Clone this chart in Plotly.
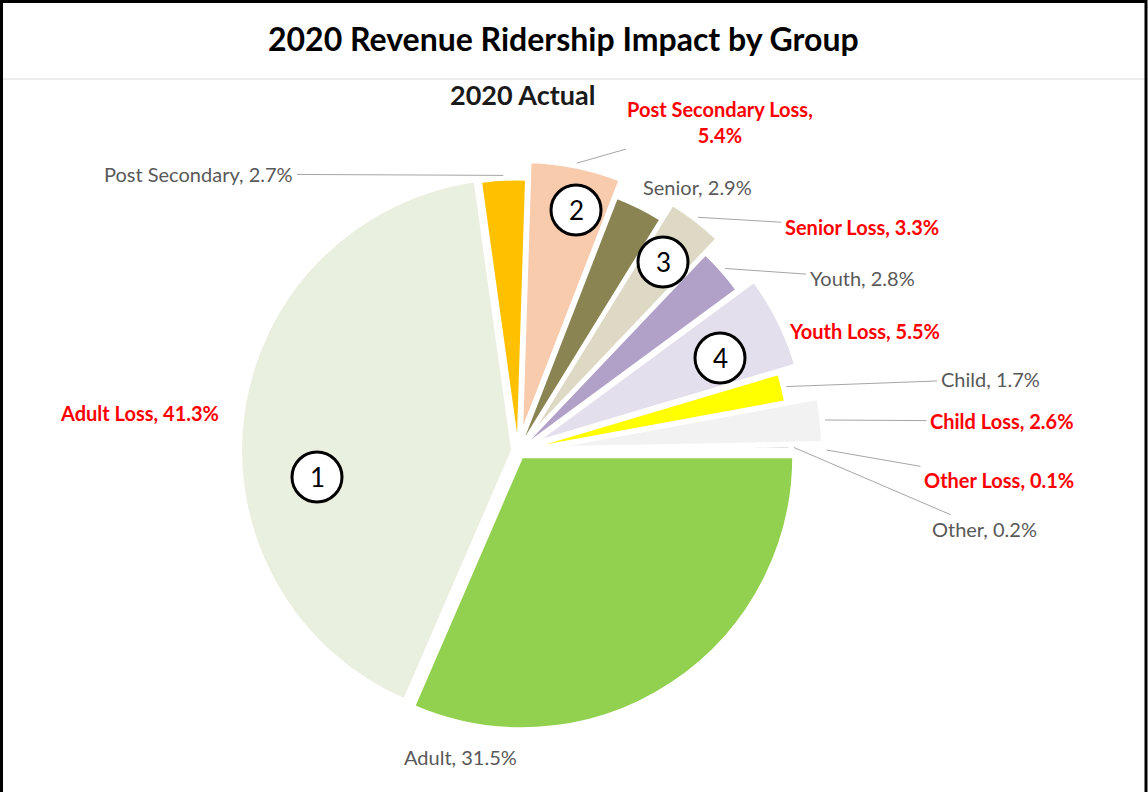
import math
import plotly.graph_objects as go

# Data
grupos = ["Adult", "Adult Loss", "Post Secondary", "Post Secondary Loss", "Senior", "Senior Loss",
          "Youth", "Youth Loss", "Child", "Child Loss", "Other", "Other Loss"]
percentuais = [31.5, 41.3, 2.7, 5.4, 2.9, 3.3, 2.8, 5.5, 1.7, 2.6, 0.2, 0.1]
marcadores = ["1", "2", "3", "4"]

# Colors / pulls
cores = {
    "Adult": "#92D050",
    "Adult Loss": "#EAF0DF",
    "Post Secondary": "#FFC000",
    "Post Secondary Loss": "#F8CBAD",
    "Senior": "#8A8452",
    "Senior Loss": "#DDD9C4",
    "Youth": "#B1A0C7",
    "Youth Loss": "#E4DFEC",
    "Child": "#FFFF00",
    "Child Loss": "#F2F2F2",
    "Other": "#BFBFBF",
    "Other Loss": "#EDEDED",
}
pulls = [0.025, 0.02, 0, 0.065, 0, 0.07, 0, 0.07, 0, 0.12, 0, 0.12]

# Layout (pixels)
W, H = 1148, 792
cx, cy, r = 518, 451, 272
half = r * (1 + max(pulls))

# label text centre (px) and whether a leader line is drawn
pos_rotulos = {
    "Adult": (460, 757, False),
    "Adult Loss": (139, 413, False),
    "Post Secondary": (199, 174, True),
    "Post Secondary Loss": (720, 122, True),
    "Senior": (697, 187, False),
    "Senior Loss": (862, 227, True),
    "Youth": (862, 278, True),
    "Youth Loss": (864, 331, False),
    "Child": (990, 379, True),
    "Child Loss": (1002, 421, True),
    "Other": (984, 529, True),
    "Other Loss": (999, 480, True),
}
pos_marcadores = [(317, 477), (576, 210), (663, 262), (720, 358)]

fonte = "Lato, 'Open Sans', sans-serif"

fig = go.Figure(go.Pie(
    labels=grupos, values=percentuais, sort=False, direction="clockwise", rotation=90,
    marker=dict(colors=[cores[g] for g in grupos], line=dict(color="white", width=3)),
    pull=pulls, textinfo="none", hoverinfo="label+percent", showlegend=False,
    domain=dict(x=[(cx - half) / W, (cx + half) / W], y=[1 - (cy + half) / H, 1 - (cy - half) / H]),
))

# Labels
total = sum(percentuais)
acumulado = 0
anotacoes = []
for g, v, p in zip(grupos, percentuais, pulls):
    meio = math.radians(90 + (acumulado + v / 2) / total * 360)
    acumulado += v
    dist = r * (1 + p) + 4
    tx, ty = cx + dist * math.sin(meio), cy - dist * math.cos(meio)
    lx, ly, linha = pos_rotulos[g]
    perda = "Loss" in g
    texto = f"{g}, {v}%"
    if g == "Post Secondary Loss":
        texto = f"{g},<br>{v}%"
    fonte_rot = dict(family=fonte, size=20, color="#FF0000" if perda else "#595959")
    if linha:
        anotacoes.append(dict(x=tx / W, y=1 - ty / H, xref="paper", yref="paper",
                              ax=lx - tx, ay=ly - ty, axref="pixel", ayref="pixel",
                              text=f"<b>{texto}</b>" if perda else texto, font=fonte_rot,
                              showarrow=True, arrowhead=0, arrowwidth=1, arrowcolor="#A6A6A6",
                              standoff=0, startstandoff=2))
    else:
        anotacoes.append(dict(x=lx / W, y=1 - ly / H, xref="paper", yref="paper",
                              xanchor="center", yanchor="middle",
                              text=f"<b>{texto}</b>" if perda else texto, font=fonte_rot,
                              showarrow=False))

# Circled numbers
formas = []
R = 25
for m, (mx, my) in zip(marcadores, pos_marcadores):
    formas.append(dict(type="circle", xref="paper", yref="paper",
                       x0=(mx - R) / W, x1=(mx + R) / W, y0=1 - (my + R) / H, y1=1 - (my - R) / H,
                       fillcolor="white", line=dict(color="black", width=3)))
    anotacoes.append(dict(x=mx / W, y=1 - my / H, xref="paper", yref="paper", text=m,
                          xanchor="center", yanchor="middle",
                          font=dict(family=fonte, size=26, color="black"), showarrow=False))

# Title, subtitle, frame
anotacoes.append(dict(x=563 / W, y=1 - 38 / H, xref="paper", yref="paper",
                      xanchor="center", yanchor="middle",
                      text="<b>2020 Revenue Ridership Impact by Group</b>",
                      font=dict(family=fonte, size=32, color="black"), showarrow=False))
anotacoes.append(dict(x=522 / W, y=1 - 95 / H, xref="paper", yref="paper", text="<b>2020 Actual</b>",
                      xanchor="center", yanchor="middle",
                      font=dict(family=fonte, size=27, color="#1a1a1a"), showarrow=False))
formas.append(dict(type="line", xref="paper", yref="paper", x0=0, x1=1, y0=1 - 79 / H, y1=1 - 79 / H,
                   line=dict(color="#D9D9D9", width=1)))
formas.append(dict(type="rect", xref="paper", yref="paper", x0=1.5 / W, x1=1 - 2 / W,
                   y0=-0.01, y1=1 - 1.5 / H, line=dict(color="black", width=3)))

fig.update_layout(width=W, height=H, margin=dict(l=0, r=0, t=0, b=0),
                  paper_bgcolor="white", plot_bgcolor="white",
                  annotations=anotacoes, shapes=formas)

fig.write_html("out.html", config={"displayModeBar": False},
               post_script="document.body.style.margin='0';")
